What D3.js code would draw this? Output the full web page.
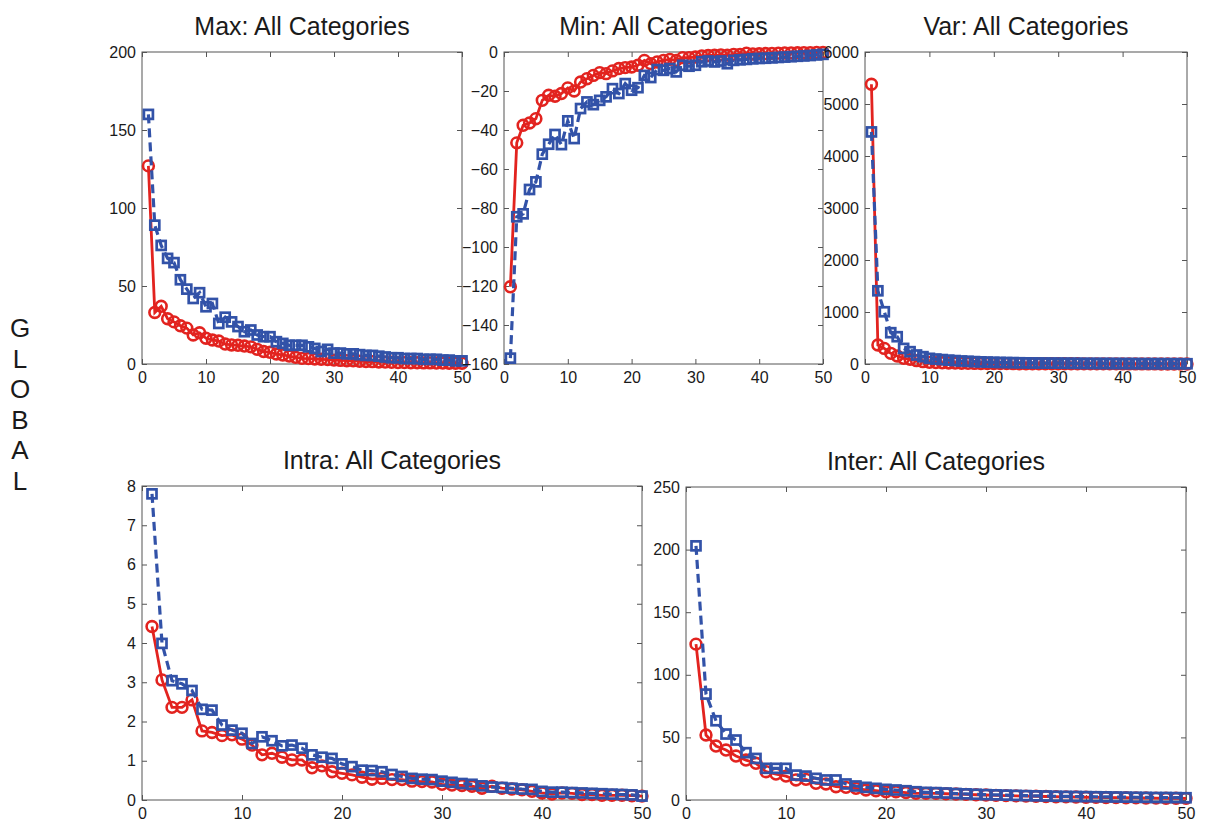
<!DOCTYPE html>
<html>
<head>
<meta charset="utf-8">
<script src="https://cdn.jsdelivr.net/npm/d3@7"></script>
<style>
  html, body { margin: 0; padding: 0; background: #fff; }
  body { position: relative; width: 1209px; height: 825px; }
  svg { display: block; }
  .tick text { font-family: "Liberation Sans", Arial, sans-serif; font-size: 16px; fill: #1a1a1a; }
  #side { position: absolute; left: 0; width: 40px; text-align: center;
          font-family: "Liberation Sans", Arial, sans-serif; font-size: 26px; line-height: 30.6px; color: #1a1a1a; }
</style>
</head>
<body>
<svg id="chart" width="1209" height="825"></svg>
<div id="side"></div>
<script>
// ---------- DATA ----------
const ranks = [1,2,3,4,5,6,7,8,9,10,11,12,13,14,15,16,17,18,19,20,21,22,23,24,25,
               26,27,28,29,30,31,32,33,34,35,36,37,38,39,40,41,42,43,44,45,46,47,48,49,50];
const xTicks = [0,10,20,30,40,50];

const titles = ["Max: All Categories","Min: All Categories","Var: All Categories",
                "Intra: All Categories","Inter: All Categories"];
const sideLabel = ["G","L","O","B","A","L"];

// Max
const maxBlue = [160,89,76,67.7,65,54,48,42,45.7,36.7,38.8,26,30,27,24,20.7,21.8,18.6,17.5,17.5,
                 14.3,13.2,12,12,12,11,10,8,9.4,7,7,6.5,6.5,6,5.5,5.5,5,4.5,4,4,
                 3.5,3.5,3.5,3,3,3,2.5,2.5,2,2];
const maxRed  = [127,33,37,29,27,24.5,23,18.6,20,16.5,15.4,14.7,12.8,12.2,12,11.5,11,9.4,8,7.5,
                 6.4,5.8,5.1,4.3,3.6,3.5,3.2,3,2.8,2.5,2.3,2.1,2,1.8,1.6,1.5,1.3,1.2,1.1,0.9,
                 0.9,0.8,0.8,0.7,0.7,0.6,0.6,0.5,0.5,0.5];
const maxTicks = [0,50,100,150,200];

// Min
const minBlue = [-157,-84.5,-83,-70.5,-66.6,-52.4,-47.3,-42.3,-47.5,-35.3,-44.4,-29,-25.6,-27,-24.8,-23,-18.8,-21.3,-16.2,-19.6,
                 -18.3,-12,-13.1,-9,-9.4,-8.5,-10.2,-6.8,-7.3,-6.8,-5,-4.6,-5.1,-4.6,-6,-4.3,-4,-3.8,-3.5,-3.3,
                 -3.2,-3,-2.8,-2.6,-2.4,-2.2,-2,-1.8,-1.5,-1.2];
const minRed  = [-120.4,-46.6,-37.6,-36.4,-34.2,-24.8,-22.2,-22.7,-21.3,-18.4,-20,-15.4,-13.7,-12,-10.6,-11.1,-9.7,-8.5,-8,-7.7,
                 -6.8,-4.3,-6,-5.1,-4.3,-3.8,-4.3,-2.9,-2.9,-2.6,-2,-1.8,-1.7,-1.5,-1.6,-1.2,-1.2,-0.6,-1,-0.9,
                 -0.8,-0.7,-0.6,-0.5,-0.5,-0.4,-0.3,-0.3,-0.2,-0.2];
const minTicks = [-160,-140,-120,-100,-80,-60,-40,-20,0];

// Var
const varBlue = [4463,1408,1005,602,525,300,237,173,141,109,95,85,74,66,58,52,46,41,37,33,
                 30,28,26,24,22,20,19,18,17,16,15,14,13,12,11.5,11,10.5,10,9.5,9,
                 8.5,8,7.5,7,7,6.5,6,6,5.5,5];
const varRed  = [5379,365,300,205,154,109,90,64,45,32,27,23,20,17,15,13,11.5,10,9,8,
                 7.5,7,6.5,6,5.5,5,4.8,4.5,4.2,4,3.8,3.6,3.4,3.2,3,2.8,2.6,2.4,2.2,2,
                 1.9,1.8,1.7,1.6,1.5,1.4,1.3,1.2,1.1,1];
const varTicks = [0,1000,2000,3000,4000,5000,6000];

// Intra
const intraBlue = [7.8,3.99,3.04,2.96,2.79,2.31,2.29,1.91,1.78,1.7,1.44,1.61,1.51,1.38,1.4,1.32,1.15,1.09,1.06,0.92,
                   0.85,0.76,0.75,0.72,0.65,0.6,0.55,0.53,0.52,0.48,0.45,0.42,0.4,0.36,0.33,0.32,0.3,0.28,0.27,0.22,
                   0.2,0.2,0.19,0.18,0.17,0.16,0.15,0.14,0.13,0.1];
const intraRed  = [4.42,3.06,2.36,2.36,2.55,1.76,1.72,1.64,1.66,1.55,1.4,1.15,1.19,1.09,1.02,1.02,0.82,0.87,0.72,0.68,
                   0.64,0.58,0.53,0.55,0.52,0.52,0.48,0.47,0.46,0.4,0.38,0.37,0.35,0.3,0.35,0.3,0.28,0.26,0.22,0.18,
                   0.15,0.18,0.17,0.14,0.14,0.12,0.12,0.12,0.11,0.1];
const intraTicks = [0,1,2,3,4,5,6,7,8];

// Inter
const interBlue = [203,84.6,63.3,52.7,47.9,37.8,33.2,25.3,25.3,25.3,19.9,19.1,17.3,16,16,12.8,11.2,10.1,9.3,8.5,
                   8,7.4,6.6,6.1,5.9,5.6,5.2,4.9,4.6,4.3,4.1,3.9,3.7,3.5,3.3,3.2,3,2.9,2.8,2.7,
                   2.6,2.5,2.4,2.3,2.2,2.1,2,2,1.9,1.8];
const interRed  = [124.5,51.9,43.1,39.9,35.1,31.9,29.3,22.6,20.7,19.1,16,16.5,13.3,12.8,10.6,10.1,9.3,8,7.4,6.6,
                   6.6,5.9,5.3,5.3,5.3,5,4.8,4.5,4.2,4,3.7,3.5,3.3,3.1,3,2.8,2.6,2.5,2.4,2.2,
                   2.1,2,1.9,1.8,1.7,1.6,1.5,1.4,1.4,1.3];
const interTicks = [0,50,100,150,200,250];

// ---------- LAYOUT ----------
const RED = "#e2231f", BLUE = "#3252a8";
const panels = [
  {title: titles[0], red: maxRed,   blue: maxBlue,   yTicks: maxTicks,   box: [142, 462, 52, 364]},
  {title: titles[1], red: minRed,   blue: minBlue,   yTicks: minTicks,   box: [504, 823, 52, 364]},
  {title: titles[2], red: varRed,   blue: varBlue,   yTicks: varTicks,   box: [865, 1187, 52, 364]},
  {title: titles[3], red: intraRed, blue: intraBlue, yTicks: intraTicks, box: [142, 642, 486, 800]},
  {title: titles[4], red: interRed, blue: interBlue, yTicks: interTicks, box: [686, 1186, 487, 800]}
];

const svg = d3.select("#chart");

panels.forEach(p => {
  const [l, r, t, b] = p.box;
  const x = d3.scaleLinear().domain([0, 50]).range([l, r]);
  const y = d3.scaleLinear().domain(d3.extent(p.yTicks)).range([b, t]);
  const g = svg.append("g");

  g.append("rect").attr("x", l).attr("y", t).attr("width", r - l).attr("height", b - t)
    .attr("fill", "none").attr("stroke", "#555").attr("stroke-width", 1);

  const tk = 5;
  const styleAxis = sel => {
    sel.select(".domain").remove();
    sel.selectAll(".tick line").attr("stroke", "#555");
  };
  g.append("g").attr("transform", `translate(0,${b})`)
    .call(d3.axisBottom(x).tickValues(xTicks).tickSizeInner(-tk).tickSizeOuter(0).tickPadding(8))
    .call(styleAxis)
    .selectAll("text").attr("dy", "0.71em");
  g.append("g").attr("transform", `translate(0,${t})`)
    .call(d3.axisTop(x).tickValues(xTicks).tickSizeInner(-tk).tickSizeOuter(0).tickFormat(""))
    .call(styleAxis);
  g.append("g").attr("transform", `translate(${l},0)`)
    .call(d3.axisLeft(y).tickValues(p.yTicks).tickSizeInner(-tk).tickSizeOuter(0).tickPadding(6).tickFormat(d3.format("d")))
    .call(styleAxis);
  g.append("g").attr("transform", `translate(${r},0)`)
    .call(d3.axisRight(y).tickValues(p.yTicks).tickSizeInner(-tk).tickSizeOuter(0).tickFormat(""))
    .call(styleAxis);

  g.append("text").attr("x", (l + r) / 2).attr("y", t - 17)
    .attr("text-anchor", "middle")
    .attr("font-family", "Liberation Sans, Arial, sans-serif")
    .attr("font-size", 25).attr("fill", "#1a1a1a").text(p.title);

  const line = d3.line().x((d, i) => x(ranks[i])).y(d => y(d));

  g.append("path").datum(p.red).attr("d", line)
    .attr("fill", "none").attr("stroke", RED).attr("stroke-width", 2.8);
  g.selectAll(".rc").data(p.red).enter().append("circle")
    .attr("cx", (d, i) => x(ranks[i])).attr("cy", d => y(d)).attr("r", 5.4)
    .attr("fill", "none").attr("stroke", RED).attr("stroke-width", 2.6);

  g.append("path").datum(p.blue).attr("d", line)
    .attr("fill", "none").attr("stroke", BLUE).attr("stroke-width", 3.2)
    .attr("stroke-dasharray", "9,5");
  const s = 9;
  g.selectAll(".bs").data(p.blue).enter().append("rect")
    .attr("x", (d, i) => x(ranks[i]) - s / 2).attr("y", d => y(d) - s / 2)
    .attr("width", s).attr("height", s)
    .attr("fill", "none").attr("stroke", BLUE).attr("stroke-width", 2.7);
});

// side label (single text block, one letter per line)
d3.select("#side").style("top", "313px").html(sideLabel.join("<br>"));
</script>
</body>
</html>
